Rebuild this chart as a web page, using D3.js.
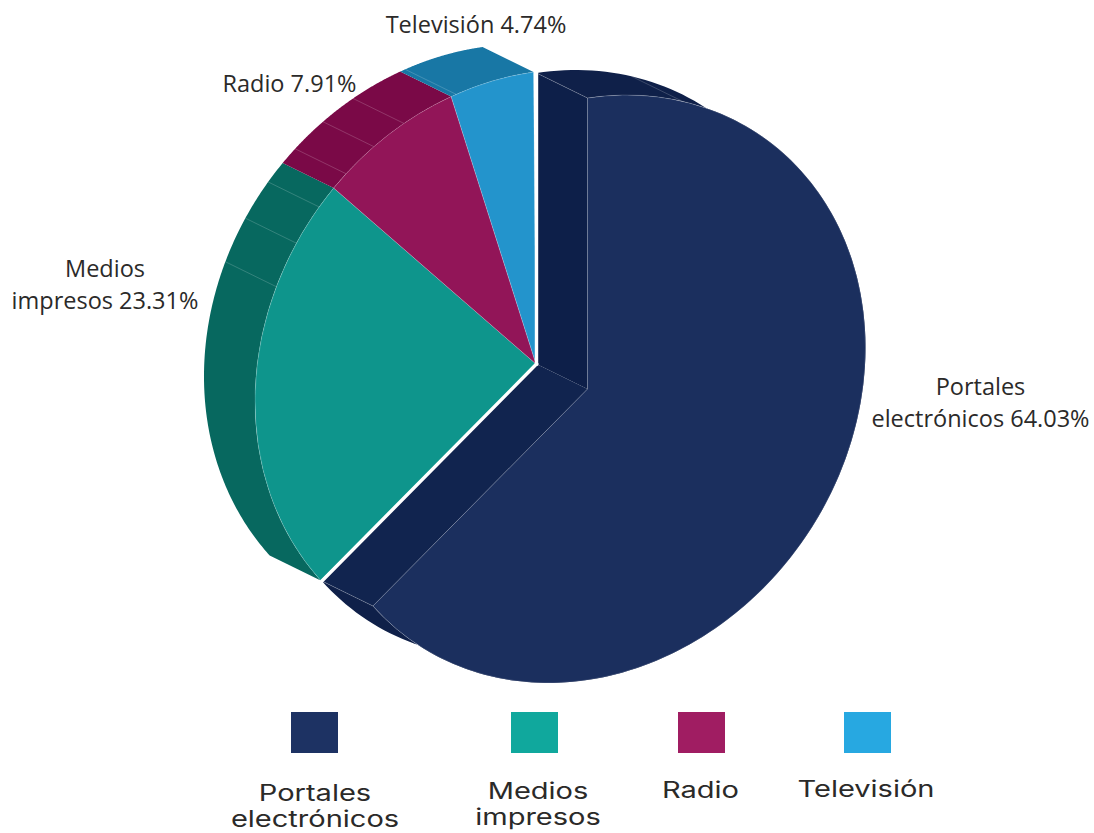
<!DOCTYPE html>
<html><head><meta charset="utf-8">
<script src="https://cdn.jsdelivr.net/npm/d3@7"></script>
<style>html,body{margin:0;background:#fff}svg{display:block}</style></head>
<body><svg id="c" width="1094" height="833"></svg>
<script>
const categories = ["Portales electrónicos","Medios impresos","Radio","Televisión"];
const values = [64.03,23.31,7.91,4.74];
const topColors = ["#1b2f5e","#0e958c","#921558","#2394cc"];
const sideColors = ["#0f2049","#07685f","#7a0947","#1877a5"];
const legendColors = ["#1d3263","#10a89d","#a01d62","#27a8e1"];
const explode = [1,0,0,0];
const seams = [[20],[293,302,310],[318,325.3,332.5],[344]];
const labelLines = [["Portales","electrónicos 64.03%"],["Medios","impresos 23.31%"],["Radio 7.91%"],["Televisión 4.74%"]];
const legendLines = [["Portales","electrónicos"],["Medios","impresos"],["Radio"],["Televisión"]];

const svg = d3.select("#c");
const R = 100;
const axs = [2.78,2.81,2.81,2.81], ays = [-.415,-.40,-.40,-.40], bys = [2.91,2.92,2.92,2.92], bxs = [0,-.025,-.025,-.025];
const center = [536,364], depth = [51,25];
const ctr = i => [center[0]+explode[i]*depth[0]+explode[i]*.5, center[1]+explode[i]*depth[1]];
const pts = (i,t,back) => {
  const c = ctr(i), s = Math.sin(t), k = Math.cos(t);
  return [c[0]+R*axs[i]*s+R*bxs[i]*k-(back?depth[0]:0), c[1]+R*ays[i]*s-R*bys[i]*k-(back?depth[1]:0)];
};
const arcs = d3.pie().sort(null).value(d=>d).startAngle(0).endAngle(2*Math.PI)(values);
const arcGen = d3.arc().innerRadius(0).outerRadius(R);
const line = d3.line();
const edge = "rgba(255,255,255,0.3)";

function ribbon(i,a){
  const n = 160, ts = d3.range(n+1).map(j=>a.startAngle+(a.endAngle-a.startAngle)*j/n);
  return line(ts.map(t=>pts(i,t,false)).concat(ts.slice().reverse().map(t=>pts(i,t,true))))+"Z";
}
function quad(i,t){
  const c = ctr(i);
  return line([c,pts(i,t,false),pts(i,t,true),[c[0]-depth[0],c[1]-depth[1]]])+"Z";
}
// sides, back to front
[1,2,3,0].forEach(i=>{
  const a = arcs[i], g = svg.append("g");
  g.append("path").attr("d",ribbon(i,a)).attr("fill",sideColors[i]);
  g.selectAll("line.seam").data(seams[i]).join("line")
    .attr("x1",d=>pts(i,d*Math.PI/180,false)[0]).attr("y1",d=>pts(i,d*Math.PI/180,false)[1])
    .attr("x2",d=>pts(i,d*Math.PI/180,true)[0]).attr("y2",d=>pts(i,d*Math.PI/180,true)[1])
    .attr("stroke",edge).attr("stroke-width",.6);
});
// radial faces of the pulled-out slice
const r0 = arcs[0];
svg.append("path").attr("d",quad(0,r0.startAngle)).attr("fill","#0d1f49");
svg.append("path").attr("d",quad(0,r0.endAngle)).attr("fill","#11244f");
// top faces
svg.selectAll("path.top").data(arcs).join("path").attr("class","top")
  .attr("d",arcGen)
  .attr("transform",(d,i)=>{const c=ctr(i);return `matrix(${axs[i]} ${ays[i]} ${-bxs[i]} ${bys[i]} ${c[0]} ${c[1]})`;})
  .attr("fill",(d,i)=>topColors[i])
  .attr("stroke",edge).attr("stroke-width",.6).attr("vector-effect","non-scaling-stroke");
// edges of the extruded slice
[r0.startAngle,r0.endAngle].forEach(t=>{
  const p=pts(0,t,false), q=pts(0,t,true);
  svg.append("line").attr("x1",p[0]).attr("y1",p[1]).attr("x2",q[0]).attr("y2",q[1]).attr("stroke",edge).attr("stroke-width",.7);
});
// white gap along the back edges of the pulled-out slice
[r0.startAngle,r0.endAngle].forEach(t=>{
  const c=ctr(0), q=pts(0,t,true);
  svg.append("line").attr("x1",c[0]-depth[0]).attr("y1",c[1]-depth[1]).attr("x2",q[0]).attr("y2",q[1])
    .attr("stroke","#fff").attr("stroke-width",3.4).attr("stroke-linecap","square");
});
// slice labels
const labelPos = [[980.5,395],[105,277],[289.5,92],[476,33]];
categories.forEach((c,i)=>{
  const t = svg.append("text").attr("text-anchor","middle").attr("font-family","'Open Sans', sans-serif")
    .attr("font-size",23.5).attr("fill","#2b2a29");
  labelLines[i].forEach((s,j)=>t.append("tspan").attr("x",labelPos[i][0]).attr("y",labelPos[i][1]+j*32).text(s));
});
// legend
const swatchX = [291,511,678,844];
const legendCx = [315,538,700.5,866];
const legendY = [801,799,798,797];
categories.forEach((c,i)=>{
  svg.append("rect").attr("x",swatchX[i]).attr("y",712).attr("width",47).attr("height",41).attr("fill",legendColors[i]);
  const t = svg.append("text").attr("text-anchor","middle").attr("font-family","Inter, sans-serif")
    .attr("font-size",22.5).attr("fill","#2b2a29")
    .attr("transform",`translate(${legendCx[i]},${legendY[i]}) scale(1.29,1)`);
  legendLines[i].forEach((s,j)=>t.append("tspan").attr("x",0).attr("y",j*26.5).text(s));
});
</script></body></html>
